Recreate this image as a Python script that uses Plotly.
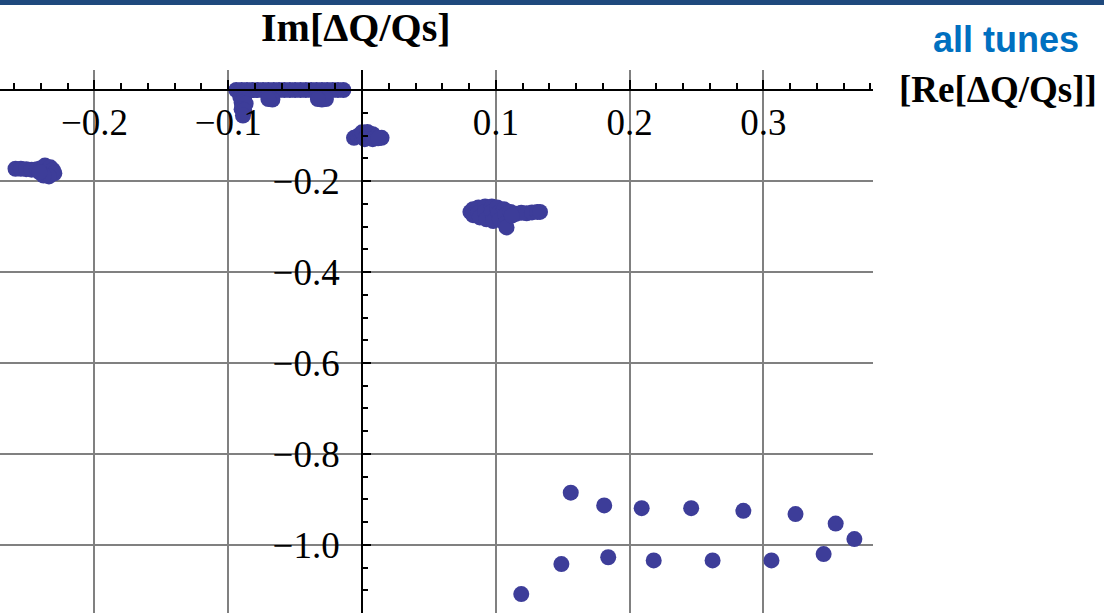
import plotly.graph_objects as go

# ---- data (Re[dQ/Qs], Im[dQ/Qs]) ----
cluster_a_re = [-0.259, -0.255, -0.251, -0.247, -0.243, -0.240, -0.237, -0.236, -0.233, -0.231,
                -0.230, -0.234, -0.238, -0.241]
cluster_a_im = [-0.173, -0.173, -0.174, -0.175, -0.174, -0.172, -0.166, -0.178, -0.170, -0.176,
                -0.183, -0.190, -0.188, -0.181]

cluster_b_re = [-0.094, -0.090, -0.086, -0.082, -0.078, -0.074, -0.070, -0.066, -0.062, -0.058,
                -0.054, -0.050, -0.046, -0.042, -0.038, -0.034, -0.030, -0.026, -0.022, -0.018,
                -0.014, -0.091, -0.088, -0.090, -0.087, -0.090, -0.088, -0.089, -0.070, -0.067,
                -0.070, -0.033, -0.030, -0.027, -0.033]
cluster_b_im = [0.0, 0.0, 0.0, 0.0, 0.0, 0.0, 0.0, 0.0, 0.0, 0.0,
                0.0, 0.0, 0.0, 0.0, 0.0, 0.0, 0.0, 0.0, 0.0, 0.0,
                0.0, -0.015, -0.015, -0.028, -0.030, -0.042, -0.045, -0.056, -0.012, -0.021,
                -0.020, -0.012, -0.021, -0.020, -0.020]

cluster_c_re = [-0.006, -0.003, -0.001, 0.000, 0.004, 0.005, 0.008, 0.010, 0.0146, 0.002, 0.008, 0.012]
cluster_c_im = [-0.105, -0.101, -0.098, -0.093, -0.092, -0.099, -0.097, -0.103, -0.105, -0.108,
                -0.108, -0.106]

cluster_d_re = [0.081, 0.083, 0.083, 0.087, 0.087, 0.088, 0.092, 0.092, 0.093, 0.097,
                0.097, 0.098, 0.101, 0.102, 0.103, 0.106, 0.107, 0.107, 0.108, 0.111,
                0.115, 0.119, 0.123, 0.127, 0.131, 0.133, 0.112]
cluster_d_im = [-0.268, -0.262, -0.275, -0.258, -0.270, -0.280, -0.256, -0.268, -0.284, -0.256,
                -0.268, -0.288, -0.258, -0.270, -0.285, -0.262, -0.275, -0.294, -0.302, -0.268,
                -0.272, -0.270, -0.271, -0.269, -0.268, -0.268, -0.276]

upper_row_re = [0.156, 0.181, 0.209, 0.246, 0.285, 0.324, 0.354, 0.368]
upper_row_im = [-0.885, -0.913, -0.919, -0.919, -0.925, -0.932, -0.953, -0.987]

lower_row_re = [0.119, 0.149, 0.184, 0.218, 0.262, 0.306, 0.345]
lower_row_im = [-1.108, -1.042, -1.027, -1.034, -1.034, -1.034, -1.020]

x_tick_vals = [-0.2, -0.1, 0.1, 0.2, 0.3]
x_tick_text = ["\u22120.2", "\u22120.1", "0.1", "0.2", "0.3"]
y_tick_vals = [-0.2, -0.4, -0.6, -0.8, -1.0]
y_tick_text = ["\u22120.2", "\u22120.4", "\u22120.6", "\u22120.8", "\u22121.0"]

x_range = [-0.2706, 0.3819]
y_range = [-1.1495, 0.044]

re_all = cluster_a_re + cluster_b_re + cluster_c_re + cluster_d_re + upper_row_re + lower_row_re
im_all = cluster_a_im + cluster_b_im + cluster_c_im + cluster_d_im + upper_row_im + lower_row_im

W, H = 1104, 613
ML, MR, MT, MB = 0, 231, 70, 0
PW, PH = W - ML - MR, H - MT - MB

def px_x(p):
    return (p - ML) / PW

def px_y(p):
    return (H - MB - p) / PH

serif = "Liberation Serif"

fig = go.Figure()
fig.add_trace(go.Scatter(
    x=re_all, y=im_all, mode="markers",
    marker=dict(size=16, color="#3D3D99", line=dict(width=0)),
    hoverinfo="skip", showlegend=False,
))

x_axis_pos = (0 - y_range[0]) / (y_range[1] - y_range[0])
y_axis_pos = (0 - x_range[0]) / (x_range[1] - x_range[0])

fig.update_layout(
    width=W, height=H,
    margin=dict(l=ML, r=MR, t=MT, b=MB, pad=0),
    paper_bgcolor="white", plot_bgcolor="white",
    showlegend=False,
    xaxis=dict(
        range=x_range, tickmode="array", tickvals=x_tick_vals, ticktext=x_tick_text,
        showgrid=True, gridcolor="#808080", gridwidth=2, zeroline=False,
        showline=True, linecolor="black", linewidth=2,
        ticks="inside", ticklen=9, tickwidth=2, tickcolor="black",
        minor=dict(tickmode="linear", tick0=0, dtick=0.02, ticks="inside", ticklen=6,
                   tickwidth=2, tickcolor="black", showgrid=False),
        anchor="free", position=x_axis_pos, side="bottom",
        tickfont=dict(family=serif, size=37, color="black"),
        ticklabelstandoff=0,
    ),
    yaxis=dict(
        range=y_range, tickmode="array", tickvals=y_tick_vals, ticktext=y_tick_text,
        showgrid=True, gridcolor="#808080", gridwidth=2, zeroline=False,
        showline=True, linecolor="black", linewidth=2,
        ticks="inside", ticklen=8, tickwidth=2, tickcolor="black",
        minor=dict(tickmode="linear", tick0=0, dtick=0.05, ticks="inside", ticklen=5,
                   tickwidth=2, tickcolor="black", showgrid=False),
        anchor="free", position=y_axis_pos, side="left",
        tickfont=dict(family=serif, size=37, color="black"),
        ticklabelstandoff=14,
    ),
    shapes=[dict(type="rect", xref="paper", yref="paper",
                 x0=px_x(-5), x1=px_x(W + 5), y0=px_y(5), y1=px_y(-5),
                 fillcolor="#1F497D", line=dict(width=0), layer="above")],
    annotations=[
        dict(text="<b>Im[\u0394Q/Qs]</b>", xref="paper", yref="paper",
             x=px_x(356), y=px_y(27), xanchor="center", yanchor="middle",
             showarrow=False, font=dict(family=serif, size=40, color="black")),
        dict(text="<b>[Re[\u0394Q/Qs]]</b>", xref="paper", yref="paper",
             x=px_x(897), y=px_y(89), xanchor="left", yanchor="middle",
             showarrow=False, font=dict(family=serif, size=37, color="black")),
        dict(text="<b>all tunes</b>", xref="paper", yref="paper",
             x=px_x(1006), y=px_y(40), xanchor="center", yanchor="middle",
             showarrow=False, font=dict(family="Liberation Sans", size=36, color="#0070C0")),
    ],
)

fig.write_html("out.html", config={"displayModeBar": False},
               post_script="document.body.style.margin='0';")
